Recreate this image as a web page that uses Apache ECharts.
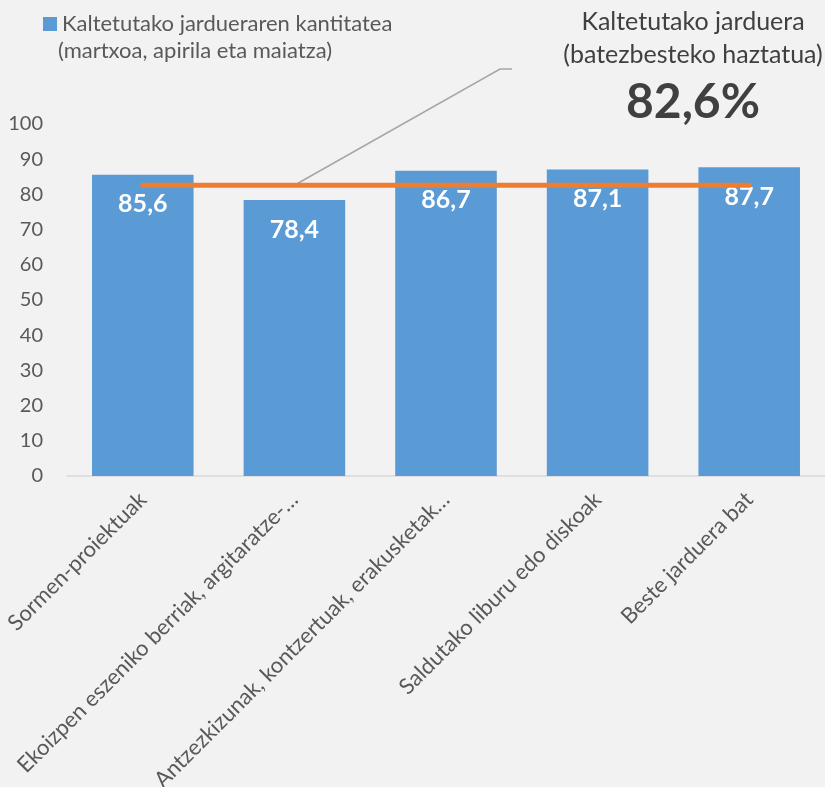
<!DOCTYPE html>
<html><head><meta charset="utf-8">
<script src="https://cdn.jsdelivr.net/npm/echarts@6/dist/echarts.min.js"></script>
<style>html,body{margin:0;padding:0;background:#f2f2f2}#c{width:825px;height:787px}</style>
</head><body><div id="c"></div>
<script>
const categories = [
  "Sormen-proiektuak",
  "Ekoizpen eszeniko berriak, argitaratze-…",
  "Antzezkizunak, kontzertuak, erakusketak…",
  "Saldutako liburu edo diskoak",
  "Beste jarduera bat"
];
const activityValues = [85.6, 78.4, 86.7, 87.1, 87.7];
const weightedAverage = 82.6;
const averageLine = [82.6, 82.6, 82.6, 82.6, 82.6];
const yTicks = [0, 100, 10];
const barName = "Kaltetutako jardueraren kantitatea";
const barNameLine2 = "(martxoa, apirila eta maiatza)";
const annotTitle = ["Kaltetutako jarduera", "(batezbesteko haztatua)"];

const FONT = "Lato";
const fmt = v => String(v).replace('.', ',');

const chart = echarts.init(document.getElementById('c'), null, {renderer: 'canvas'});
chart.setOption({
  backgroundColor: '#f2f2f2',
  animation: false,
  textStyle: {fontFamily: FONT},
  legend: {
    data: [barName], left: 38, top: 8, icon: 'rect', itemWidth: 14, itemHeight: 14,
    textStyle: {fontSize: 22, color: '#595959', fontFamily: FONT}
  },
  grid: {left: 67, right: 0, top: 124, bottom: 311, containLabel: false, outerBoundsMode: 'none'},
  xAxis: {
    type: 'category', data: categories,
    axisLine: {lineStyle: {color: '#d9d9d9', width: 1.5}},
    axisTick: {show: false},
    axisLabel: {rotate: 45, interval: 0, fontSize: 22, color: '#595959', margin: 20, fontFamily: FONT}
  },
  yAxis: {
    type: 'value', min: yTicks[0], max: yTicks[1], interval: yTicks[2],
    axisLine: {show: false}, axisTick: {show: false}, splitLine: {show: false},
    axisLabel: {fontSize: 20, color: '#595959', margin: 24, fontFamily: FONT}
  },
  series: [
    {
      name: barName, type: 'bar', data: activityValues, barCategoryGap: '33%',
      itemStyle: {color: '#5b9bd5'},
      label: {show: true, position: 'insideTop', distance: 17, color: '#fff', fontWeight: 'bold',
        fontSize: 25, fontFamily: FONT, formatter: p => fmt(p.value)}
    },
    {
      name: 'avg', type: 'line', data: averageLine, symbol: 'none', z: 5,
      lineStyle: {color: '#ed7d31', width: 5, cap: 'round'}
    }
  ]
});

const p0 = chart.convertToPixel({xAxisIndex: 0, yAxisIndex: 0}, [1, weightedAverage]);
chart.setOption({
  graphic: [
    {type: 'text', x: 58, y: 51, style: {text: barNameLine2, fontSize: 22, fontFamily: FONT, fill: '#595959', verticalAlign: 'middle'}},
    {type: 'text', x: 693, y: 22, style: {text: annotTitle[0], fontSize: 25, fontFamily: FONT, fill: '#404040', align: 'center', verticalAlign: 'middle'}},
    {type: 'text', x: 693, y: 55, style: {text: annotTitle[1], fontSize: 25, fontFamily: FONT, fill: '#404040', align: 'center', verticalAlign: 'middle'}},
    {type: 'text', x: 693, y: 103, style: {text: fmt(weightedAverage) + '%', fontSize: 48, fontWeight: 'bold', fontFamily: FONT, fill: '#404040', align: 'center', verticalAlign: 'middle'}},
    {type: 'polyline', z: 1, shape: {points: [[p0[0], p0[1]], [500, 69], [512, 69]]}, style: {stroke: '#a6a6a6', lineWidth: 1.5, fill: null}}
  ]
});
</script></body></html>
